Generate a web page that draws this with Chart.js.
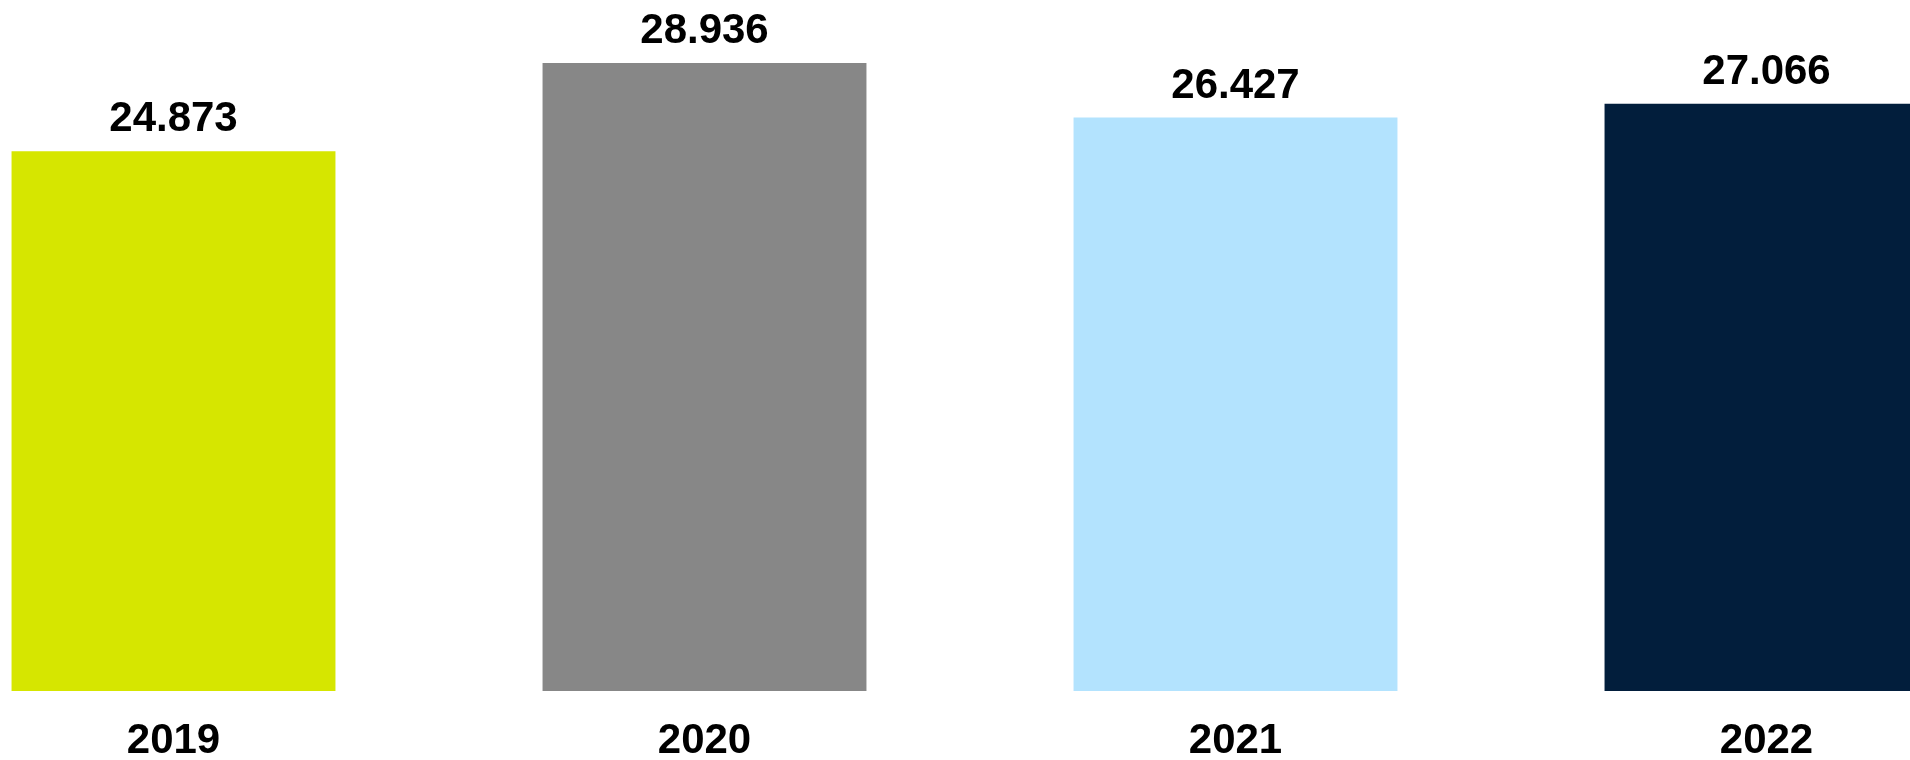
<!DOCTYPE html>
<html>
<head>
<meta charset="utf-8">
<script src="https://cdn.jsdelivr.net/npm/chart.js@4"></script>
<style>
    html, body { margin: 0; padding: 0; background: #fff; overflow: hidden; }
    body { width: 1910px; height: 760px; position: relative; }
    #wrap { position: absolute; left: -92px; top: 0; width: 2124px; height: 792px; }
</style>
</head>
<body>
<div id="wrap"><canvas id="grafica"></canvas></div>
<script>
const years = ["2019", "2020", "2021", "2022"];
const values = [24873, 28936, 26427, 27066];
const barColors = ["#d6e600", "#878787", "#b3e3fe", "#021e3c"];
const yMax = 30000;

const fuente = "'Liberation Sans', Arial, sans-serif";
const formato = new Intl.NumberFormat("de-DE");

// etiquetas de valor encima de cada barra
const etiquetas = {
    id: "etiquetas",
    afterDatasetsDraw(chart) {
        const ctx = chart.ctx;
        const meta = chart.getDatasetMeta(0);
        ctx.save();
        ctx.font = "bold 42px " + fuente;
        ctx.fillStyle = "#000";
        ctx.textAlign = "center";
        ctx.textBaseline = "alphabetic";
        meta.data.forEach((bar, i) => {
            ctx.fillText(formato.format(values[i]), bar.x, bar.y - 20);
        });
        ctx.restore();
    }
};

const ctx = document.getElementById("grafica").getContext("2d");
new Chart(ctx, {
    type: "bar",
    data: {
        labels: years,
        datasets: [{
            data: values,
            backgroundColor: barColors,
            borderWidth: 0,
            categoryPercentage: 1,
            barPercentage: 0.61
        }]
    },
    options: {
        responsive: true,
        maintainAspectRatio: false,
        animation: false,
        layout: { padding: { top: 40, bottom: 1, left: 0, right: 0 } },
        plugins: { legend: { display: false }, tooltip: { enabled: false } },
        scales: {
            y: { display: false, min: 0, max: yMax },
            x: {
                grid: { display: false, drawTicks: false },
                border: { display: false },
                ticks: {
                    color: "#000",
                    padding: 29,
                    font: { family: fuente, size: 42, weight: "bold", lineHeight: 1 }
                }
            }
        }
    },
    plugins: [etiquetas]
});
</script>
</body>
</html>
